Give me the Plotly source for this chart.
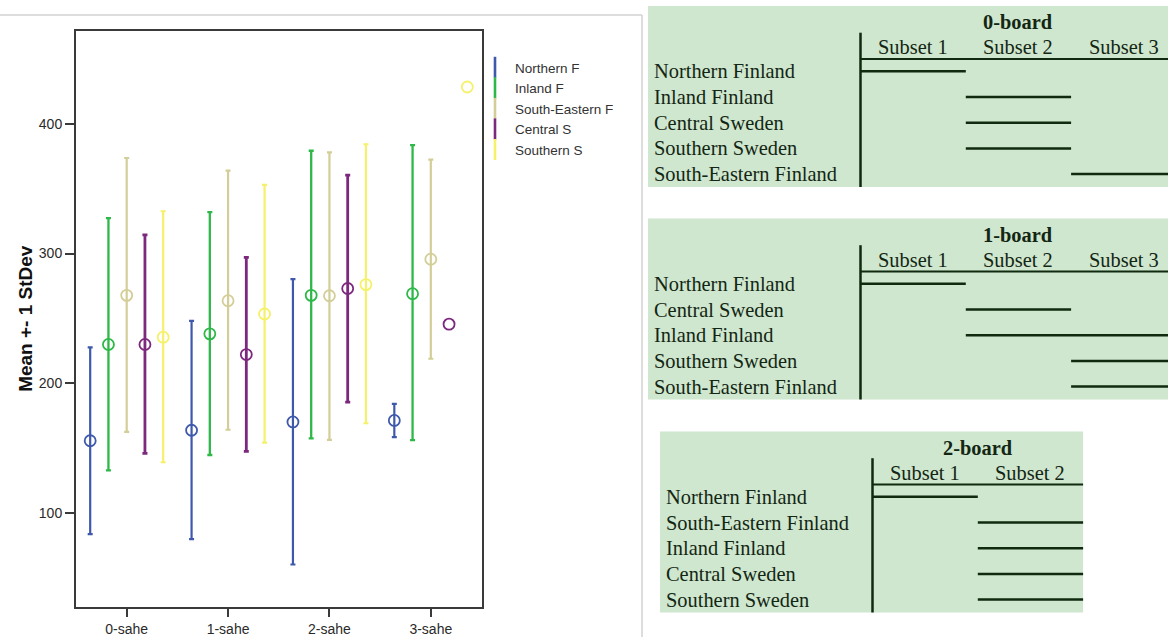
import plotly.graph_objects as go

W, H = 1168, 637

# ---------------- chart data ----------------
categories = ["0-sahe", "1-sahe", "2-sahe", "3-sahe"]
series_names = ["Northern F", "Inland F", "South-Eastern F", "Central S", "Southern S"]
series_colors = ["#3E58AC", "#2EB848", "#D3CE97", "#7C287D", "#F5F16A"]
series_offsets = [-0.36, -0.18, 0.0, 0.18, 0.36]
series_thickness = [2.2, 2.3, 2.2, 2.8, 2.2]

northern_mean = [155.5, 163.6, 170.0, 171.2]
northern_upper = [227.6, 248.0, 280.3, 184.0]
northern_lower = [83.4, 79.6, 60.0, 158.3]

inland_mean = [229.8, 238.0, 267.7, 269.0]
inland_upper = [327.3, 332.0, 379.3, 383.7]
inland_lower = [132.6, 144.5, 157.4, 156.0]

southeastern_mean = [267.7, 263.6, 267.4, 295.6]
southeastern_upper = [373.7, 364.0, 378.0, 372.4]
southeastern_lower = [162.4, 164.0, 156.1, 218.8]

central_mean = [229.8, 222.0, 273.0, 245.5]
central_upper = [314.4, 297.0, 360.5, None]
central_lower = [145.8, 147.3, 185.3, None]

southern_mean = [235.4, 253.3, 276.0, 428.5]
southern_upper = [332.6, 353.0, 384.3, None]
southern_lower = [138.9, 154.0, 169.0, None]

y_tick_values = [100, 200, 300, 400]
y_axis_title = "Mean +- 1 StDev"

means = [northern_mean, inland_mean, southeastern_mean, central_mean, southern_mean]
uppers = [northern_upper, inland_upper, southeastern_upper, central_upper, southern_upper]
lowers = [northern_lower, inland_lower, southeastern_lower, central_lower, southern_lower]

# ---------------- table data ----------------
board_titles = ["0-board", "1-board", "2-board"]
board_subsets = [["Subset 1", "Subset 2", "Subset 3"],
                 ["Subset 1", "Subset 2", "Subset 3"],
                 ["Subset 1", "Subset 2"]]
board0_rows = ["Northern Finland", "Inland Finland", "Central Sweden", "Southern Sweden", "South-Eastern Finland"]
board0_spans = [(0, 1), (1, 2), (1, 2), (1, 2), (2, 3)]
board1_rows = ["Northern Finland", "Central Sweden", "Inland Finland", "Southern Sweden", "South-Eastern Finland"]
board1_spans = [(0, 1), (1, 2), (1, 3), (2, 3), (2, 3)]
board2_rows = ["Northern Finland", "South-Eastern Finland", "Inland Finland", "Central Sweden", "Southern Sweden"]
board2_spans = [(0, 1), (1, 2), (1, 2), (1, 2), (1, 2)]
board_rows = [board0_rows, board1_rows, board2_rows]
board_spans = [board0_spans, board1_spans, board2_spans]


def px_x(p):
    return p / W


def px_y(p):
    return 1 - p / H


fig = go.Figure()

for name, col, off, thk, m, up, lo in zip(series_names, series_colors, series_offsets,
                                          series_thickness, means, uppers, lowers):
    xs_e, ys_e, plus, minus, xs_n, ys_n = [], [], [], [], [], []
    for ci, (mv, uv, lv) in enumerate(zip(m, up, lo)):
        if uv is None:
            xs_n.append(ci + off)
            ys_n.append(mv)
        else:
            xs_e.append(ci + off)
            ys_e.append(mv)
            plus.append(uv - mv)
            minus.append(mv - lv)
    marker = dict(symbol="circle-open", size=11, color=col, line=dict(width=1.8, color=col))
    fig.add_trace(go.Scatter(
        x=xs_e, y=ys_e, mode="markers", marker=marker, showlegend=False, name=name,
        error_y=dict(type="data", symmetric=False, array=plus, arrayminus=minus,
                     color=col, thickness=thk, width=2.5)))
    if xs_n:
        fig.add_trace(go.Scatter(x=xs_n, y=ys_n, mode="markers", marker=marker,
                                 showlegend=False, name=name))
    # legend entry
    fig.add_trace(go.Scatter(
        x=[None], y=[None], mode="markers", name=name,
        marker=dict(symbol="line-ns", size=15, color=col, line=dict(width=2.6, color=col))))

axis_col = "#3a3a3a"
fig.update_xaxes(
    domain=[px_x(76), px_x(481.5)], range=[-0.5, 3.5],
    tickvals=list(range(len(categories))), ticktext=categories,
    showline=True, mirror=True, linecolor=axis_col, linewidth=2,
    ticks="outside", ticklen=8, tickwidth=2, tickcolor=axis_col,
    showgrid=False, zeroline=False,
    tickfont=dict(family="Liberation Sans, Arial", size=14, color="#2a2a2a"))
fig.update_yaxes(
    domain=[px_y(607), px_y(30.5)], range=[27.2, 472.1],
    tickvals=y_tick_values,
    showline=True, mirror=True, linecolor=axis_col, linewidth=2,
    ticks="outside", ticklen=9, tickwidth=2, tickcolor=axis_col,
    showgrid=False, zeroline=False,
    tickfont=dict(family="Liberation Sans, Arial", size=14, color="#2a2a2a"),
    title=dict(text=y_axis_title, standoff=1,
               font=dict(family="Liberation Sans, Arial", size=19, color="#111111", weight="bold")))

shapes = []
annotations = []

# light frame around chart panel
frame_col = "#d2d2d2"
shapes.append(dict(type="line", xref="paper", yref="paper", x0=px_x(0), x1=px_x(642),
                   y0=px_y(15), y1=px_y(15), line=dict(color=frame_col, width=1.5)))
shapes.append(dict(type="line", xref="paper", yref="paper", x0=px_x(642), x1=px_x(642),
                   y0=px_y(15), y1=px_y(H), line=dict(color=frame_col, width=1.5)))

# tables
table_origins = [(648, 6), (648, 218.5), (660, 431.5)]
bg = "#CFE6CF"
ink = "#0f2a0f"
txt = "#132613"
col_w = 105.3
row_step = 25.7
serif = "Liberation Serif, Times New Roman, serif"
tsize = 20.4

for title, subsets, rows, spans, (bx, by) in zip(board_titles, board_subsets, board_rows, board_spans, table_origins):
    vx = bx + 212.5
    right = min(vx + col_w * len(subsets), W)
    bottom = by + 181
    shapes.append(dict(type="rect", xref="paper", yref="paper", x0=px_x(bx), x1=px_x(right),
                       y0=px_y(by), y1=px_y(bottom), fillcolor=bg, line=dict(width=0), layer="below"))
    shapes.append(dict(type="line", xref="paper", yref="paper", x0=px_x(vx), x1=px_x(vx),
                       y0=px_y(by + 26.7), y1=px_y(bottom), line=dict(color=ink, width=2.5)))
    shapes.append(dict(type="line", xref="paper", yref="paper", x0=px_x(vx), x1=px_x(right),
                       y0=px_y(by + 53), y1=px_y(by + 53), line=dict(color=ink, width=2.2)))
    annotations.append(dict(xref="paper", yref="paper", x=px_x(vx + col_w * len(subsets) / 2),
                            y=px_y(by + 16), text="<b>" + title + "</b>", showarrow=False,
                            xanchor="center", yanchor="middle",
                            font=dict(family=serif, size=tsize, color=txt)))
    for si, s in enumerate(subsets):
        annotations.append(dict(xref="paper", yref="paper", x=px_x(vx + col_w * (si + 0.5)),
                                y=px_y(by + 41.3), text=s, showarrow=False,
                                xanchor="center", yanchor="middle",
                                font=dict(family=serif, size=tsize, color=txt)))
    for ri, (r, (a, b)) in enumerate(zip(rows, spans)):
        ry = by + 65.3 + ri * row_step
        annotations.append(dict(xref="paper", yref="paper", x=px_x(bx + 3.5), y=px_y(ry),
                                text=r, showarrow=False, xanchor="left", yanchor="middle",
                                font=dict(family=serif, size=tsize, color=txt)))
        shapes.append(dict(type="line", xref="paper", yref="paper",
                           x0=px_x(vx + col_w * a), x1=px_x(min(vx + col_w * b, W)),
                           y0=px_y(ry), y1=px_y(ry), line=dict(color=ink, width=2.5)))

fig.update_layout(
    width=W, height=H, margin=dict(l=0, r=0, t=0, b=0),
    paper_bgcolor="white", plot_bgcolor="white",
    shapes=shapes, annotations=annotations,
    legend=dict(x=px_x(475), y=px_y(52), xanchor="left", yanchor="top",
                bgcolor="rgba(0,0,0,0)", borderwidth=0, tracegroupgap=0,
                font=dict(family="Liberation Sans, Arial", size=13.5, color="#333333")),
)

fig.write_html("out.html", config={"displayModeBar": False},
               post_script="document.body.style.margin='0';document.body.style.overflow='hidden';")
